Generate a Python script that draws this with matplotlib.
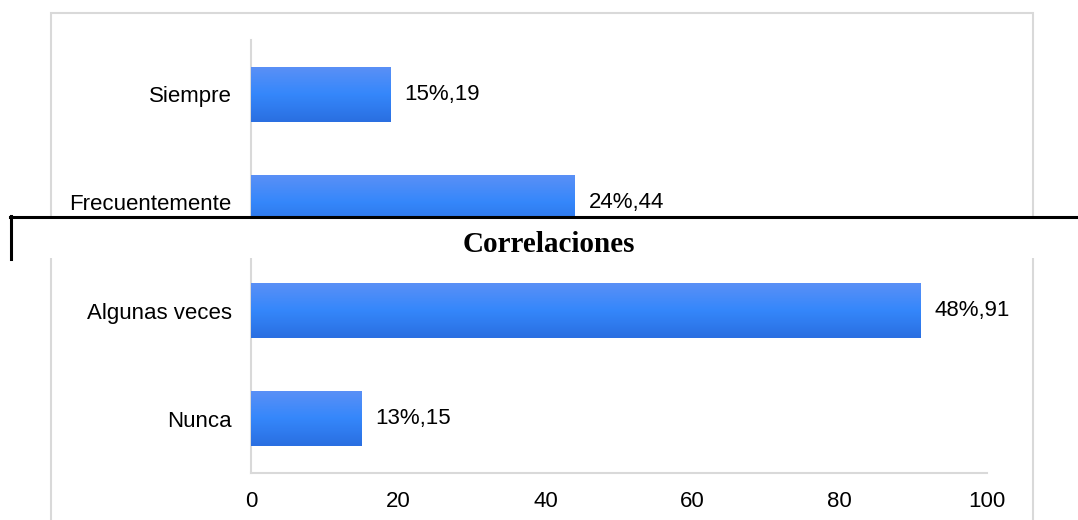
import matplotlib
matplotlib.use("Agg")
import matplotlib.pyplot as plt
from matplotlib import colors
from matplotlib.patches import Rectangle
from matplotlib.lines import Line2D
import numpy as np

categories = ["Siempre", "Frecuentemente", "Algunas veces", "Nunca"]
values = [19, 44, 91, 15]
percents = [15, 24, 48, 13]
xticks = [0, 20, 40, 60, 80, 100]
title = "Correlaciones"

plt.rcParams['font.family'] = ['Liberation Sans', 'DejaVu Sans']

fig = plt.figure(figsize=(10.78, 5.2), dpi=100)
ax = fig.add_axes([0.2328, 0.0904, 0.6828, 0.8327])

y = np.arange(len(categories))
bars = ax.barh(y, values, height=0.51, color='#3485fa', zorder=2)

# vertical gradient inside each bar
grad_cmap = colors.LinearSegmentedColormap.from_list(
    "g", ["#5b90f6", "#3587fb", "#2a6fe1"])
grad = np.linspace(0, 1, 64).reshape(-1, 1)
for b in bars:
    x0, y0 = b.get_x(), b.get_y()
    w, h = b.get_width(), b.get_height()
    im = ax.imshow(grad, cmap=grad_cmap, aspect='auto',
                   extent=(x0, x0 + w, y0 + h, y0), zorder=3,
                   interpolation='bilinear')
    im.set_clip_path(b)

for yi, v, p in zip(y, values, percents):
    ax.annotate(f"{p}%,{v}", (v, yi), xytext=(10, 0), textcoords='offset points',
                va='center', ha='left', fontsize=16, color='black')

ax.set_xlim(0, 100)
ax.set_ylim(len(categories) - 0.5, -0.5)
ax.set_yticks(y)
ax.set_yticklabels(categories, fontsize=16)
ax.set_xticks(xticks)
ax.set_xticklabels([str(t) for t in xticks], fontsize=16)
ax.tick_params(length=0)
ax.tick_params(axis='x', pad=13)
ax.tick_params(axis='y', pad=14)
for s in ['top', 'right']:
    ax.spines[s].set_visible(False)
for s in ['left', 'bottom']:
    ax.spines[s].set_color('#d9d9d9')
    ax.spines[s].set_linewidth(1.5)

# outer chart border
fig.patches.append(Rectangle((51 / 1078, -0.05), (1033 - 51) / 1078, 1.05 - 13 / 520,
                             transform=fig.transFigure, fill=False,
                             edgecolor='#d9d9d9', linewidth=1.5, zorder=0))

# page overlay: white band with heading and black rule
fig.patches.append(Rectangle((0, (520 - 258) / 520), 1, 42 / 520,
                             transform=fig.transFigure, facecolor='white',
                             edgecolor='none', zorder=10))
fig.lines.append(Line2D([10 / 1078, 1], [(520 - 217) / 520] * 2,
                        transform=fig.transFigure, color='black',
                        linewidth=2.2, zorder=11))
fig.lines.append(Line2D([11 / 1078] * 2, [(520 - 216) / 520, (520 - 259) / 520],
                        transform=fig.transFigure, color='black',
                        linewidth=2.2, zorder=11))
fig.text(549 / 1078, (520 - 244) / 520, title, ha='center', va='center',
         fontsize=21, fontweight='bold', family=['Liberation Serif', 'DejaVu Serif'],
         zorder=12)

fig.savefig("out.png", dpi=100)
